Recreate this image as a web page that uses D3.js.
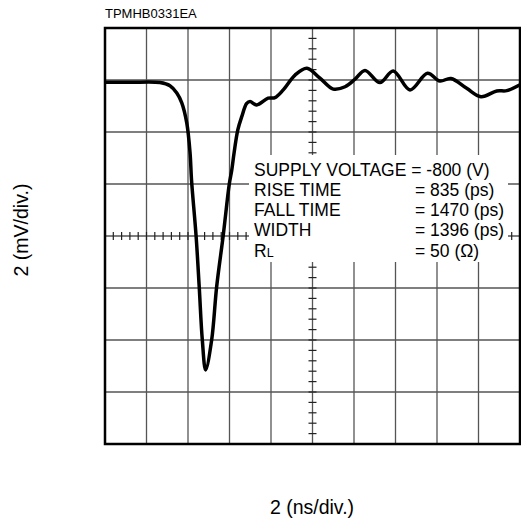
<!DOCTYPE html>
<html>
<head>
<meta charset="utf-8">
<script src="https://cdn.jsdelivr.net/npm/d3@7"></script>
<style>
  html, body { margin: 0; padding: 0; background: #fff; }
  svg { display: block; font-family: "Liberation Sans", Arial, Helvetica, sans-serif; }
</style>
</head>
<body>
<svg id="chart" width="521" height="521"></svg>
<script>
// ---- data ----
const timeNs = [0, 1.2, 2.65, 3.13, 3.46, 3.70, 3.94, 4.10, 4.17, 4.39,
  4.54, 4.69, 4.85, 5.14, 5.38, 5.70, 5.99, 6.11, 6.22, 6.40,
  6.59, 6.83, 6.99, 7.31, 7.86, 8.19, 8.59, 9.16, 9.73, 10.36,
  11.00, 11.57, 12.05, 12.53, 13.25, 13.89, 14.70, 15.54, 16.14, 16.67,
  17.43, 18.12, 18.88, 19.36, 20.0];
const voltageMv = [5.91, 5.91, 5.90, 5.78, 5.50, 5.12, 4.35, 3.19, 2.15, 0.0,
  -1.95, -4.0, -5.15, -4.0, -1.96, 0.04, 2.0, 2.54, 3.19, 4.08,
  4.59, 5.10, 5.17, 5.04, 5.30, 5.32, 5.62, 6.19, 6.45, 6.07,
  5.65, 5.74, 6.03, 6.37, 5.90, 6.35, 5.62, 6.26, 5.96, 6.06,
  5.68, 5.36, 5.58, 5.59, 5.82];
const xGridNs = [0, 2, 4, 6, 8, 10, 12, 14, 16, 18, 20];
const yGridMv = [-8, -6, -4, -2, 0, 2, 4, 6, 8];
const xMinorNs = d3.range(0, 20.001, 0.4);
const yMinorMv = d3.range(-8, 8.001, 0.4);
const titleText = "TPMHB0331EA";
const xLabel = "2 (ns/div.)";
const yLabel = "2 (mV/div.)";
const paramNames = ["SUPPLY VOLTAGE", "RISE TIME", "FALL TIME", "WIDTH", "R"];
const paramValues = ["= -800 (V)", "= 835 (ps)", "= 1470 (ps)", "= 1396 (ps)", "= 50 (\u03A9)"];

// ---- layout ----
const svg = d3.select("#chart");
const L = 105, R = 520, T = 28, B = 444;
const x = d3.scaleLinear().domain([0, 20]).range([L, R]);
const y = d3.scaleLinear().domain([-8, 8]).range([B, T]);

// grid
const grid = svg.append("g").attr("stroke", "#555").attr("stroke-width", 1.3);
grid.selectAll("line.v").data(xGridNs).join("line").attr("class", "v")
  .attr("x1", d => x(d)).attr("x2", d => x(d)).attr("y1", T).attr("y2", B);
grid.selectAll("line.h").data(yGridMv).join("line").attr("class", "h")
  .attr("y1", d => y(d)).attr("y2", d => y(d)).attr("x1", L).attr("x2", R);

// minor ticks on the centre axes
const ticks = svg.append("g").attr("stroke", "#222").attr("stroke-width", 1.2);
ticks.selectAll("line.tx").data(xMinorNs).join("line").attr("class", "tx")
  .attr("x1", d => x(d)).attr("x2", d => x(d)).attr("y1", y(0) - 4).attr("y2", y(0) + 4);
ticks.selectAll("line.ty").data(yMinorMv).join("line").attr("class", "ty")
  .attr("y1", d => y(d)).attr("y2", d => y(d)).attr("x1", x(10) - 4).attr("x2", x(10) + 4);

// white box behind the parameter text
svg.append("rect").attr("x", 249).attr("y", 155).attr("width", 259).attr("height", 107).attr("fill", "#fff");

// parameter text
const tg = svg.append("g").attr("font-size", 17.5).attr("fill", "#000");
const baselines = [175.5, 195.8, 216, 236.3, 256.6];
paramNames.forEach((n, i) => {
  if (i === 0) {
    tg.append("text").attr("x", 254).attr("y", baselines[i]).text(n + " " + paramValues[i]);
    return;
  }
  const t = tg.append("text").attr("x", 254).attr("y", baselines[i]);
  t.append("tspan").text(n);
  if (n === "R") t.append("tspan").attr("font-size", 12.5).text("L");
  tg.append("text").attr("x", 415).attr("y", baselines[i]).text(paramValues[i]);
});

// waveform
const line = d3.line().x(d => x(d[0])).y(d => y(d[1])).curve(d3.curveCatmullRom.alpha(0.5));
svg.append("path").datum(timeNs.map((t, i) => [t, voltageMv[i]]))
  .attr("d", line).attr("fill", "none").attr("stroke", "#000")
  .attr("stroke-width", 3.5).attr("stroke-linejoin", "round");

// frame
svg.append("rect").attr("x", L).attr("y", T).attr("width", R - L).attr("height", B - T)
  .attr("fill", "none").attr("stroke", "#000").attr("stroke-width", 2.5);

// labels
svg.append("text").attr("x", 105).attr("y", 18).attr("font-size", 13).text(titleText);
svg.append("text").attr("x", 312).attr("y", 514).attr("font-size", 19.5)
  .attr("text-anchor", "middle").text(xLabel);
svg.append("text").attr("transform", "translate(28,230) rotate(-90)").attr("font-size", 19.5)
  .attr("text-anchor", "middle").text(yLabel);
</script>
</body>
</html>
